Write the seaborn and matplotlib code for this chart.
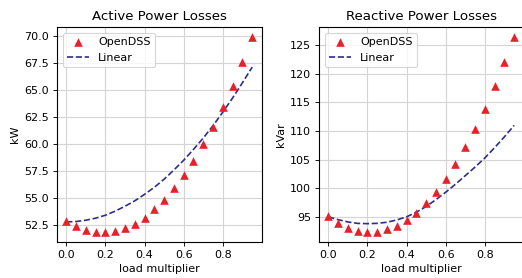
import matplotlib
matplotlib.use("Agg")
import matplotlib.pyplot as plt
import seaborn as sns
import pandas as pd

load_multiplier = [0.0, 0.05, 0.1, 0.15, 0.2, 0.25, 0.3, 0.35, 0.4, 0.45,
                   0.5, 0.55, 0.6, 0.65, 0.7, 0.75, 0.8, 0.85, 0.9, 0.95]

active_opendss = [52.9, 52.45, 52.1, 51.9, 51.85, 51.95, 52.2, 52.6, 53.2, 53.95,
                  54.8, 55.9, 57.1, 58.4, 60.0, 61.6, 63.4, 65.4, 67.6, 69.9]
active_linear = [52.8, 52.84, 52.96, 53.15, 53.42, 53.8, 54.25, 54.75, 55.35, 56.0,
                 56.75, 57.6, 58.5, 59.5, 60.55, 61.7, 62.95, 64.25, 65.65, 67.1]

reactive_opendss = [95.1, 93.95, 93.0, 92.5, 92.3, 92.4, 92.8, 93.4, 94.4, 95.75,
                    97.4, 99.4, 101.6, 104.3, 107.2, 110.4, 113.9, 117.8, 122.1, 126.5]
reactive_linear = [95.0, 94.5, 94.1, 93.85, 93.8, 93.85, 94.05, 94.45, 95.0, 95.8,
                   96.8, 98.0, 99.3, 100.7, 102.2, 103.7, 105.3, 107.1, 109.0, 111.0]

titles = ["Active Power Losses", "Reactive Power Losses"]
ylabels = ["kW", "kVar"]
x_label = "load multiplier"
x_ticks = [0.0, 0.2, 0.4, 0.6, 0.8]
active_yticks = [52.5, 55.0, 57.5, 60.0, 62.5, 65.0, 67.5, 70.0]
reactive_yticks = [95, 100, 105, 110, 115, 120, 125]

sns.set_style("ticks", {"axes.grid": True, "grid.color": "#d4d4d4",
                        "axes.edgecolor": "black", "xtick.color": "black",
                        "ytick.color": "black", "text.color": "black",
                        "axes.labelcolor": "black"})
plt.rcParams["font.family"] = ["DejaVu Sans"]
plt.rcParams["font.size"] = 10
plt.rcParams["axes.titlesize"] = 12
plt.rcParams["axes.labelsize"] = 10
plt.rcParams["xtick.labelsize"] = 10
plt.rcParams["ytick.labelsize"] = 10
plt.rcParams["legend.fontsize"] = 10
plt.rcParams["xtick.major.size"] = 3.5
plt.rcParams["ytick.major.size"] = 3.5

RED = "#e8202a"
NAVY = "#2e2e8c"

fig = plt.figure(figsize=(522 / 80, 278 / 80), dpi=80)
ax1 = fig.add_axes([57 / 522, 36 / 278, 204.5 / 522, 215 / 278])
ax2 = fig.add_axes([319 / 522, 36 / 278, 204.5 / 522, 215 / 278])

panels = [
    (ax1, active_opendss, active_linear, active_yticks, "{:.1f}"),
    (ax2, reactive_opendss, reactive_linear, reactive_yticks, "{:d}"),
]

for (ax, pts, lin, yt, fmt), title, yl in zip(panels, titles, ylabels):
    df = pd.DataFrame({"x": load_multiplier, "OpenDSS": pts, "Linear": lin})
    sns.scatterplot(data=df, x="x", y="OpenDSS", marker="^", s=60, color=RED,
                    linewidth=0, label="OpenDSS", ax=ax, zorder=3)
    sns.lineplot(data=df, x="x", y="Linear", color=NAVY, linestyle="--",
                 linewidth=1.5, label="Linear", ax=ax, zorder=2)
    ax.set_title(title)
    ax.set_xlabel(x_label)
    ax.set_ylabel(yl)
    ax.set_xticks(x_ticks)
    ax.set_xticklabels([f"{v:.1f}" for v in x_ticks])
    ax.set_yticks(yt)
    ax.set_yticklabels([fmt.format(v) for v in yt])
    ax.margins(x=0.05, y=0.05)
    ax.grid(True, color="#d4d4d4", linewidth=1.0)
    ax.set_axisbelow(True)
    for sp in ax.spines.values():
        sp.set_color("black")
        sp.set_linewidth(1.0)
    leg = ax.legend(loc="upper left", frameon=True, fancybox=True,
                    edgecolor="#cccccc", framealpha=0.8)

fig.savefig("out.png", dpi=80)
